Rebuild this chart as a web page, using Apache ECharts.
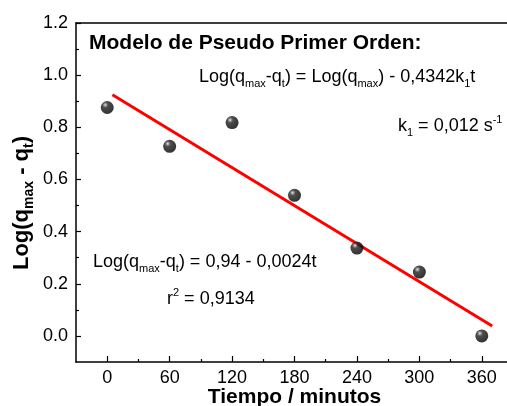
<!DOCTYPE html>
<html>
<head>
<meta charset="utf-8">
<script src="https://cdn.jsdelivr.net/npm/echarts@6/dist/echarts.min.js"></script>
<style>html,body{margin:0;padding:0;background:#fff}#c{width:507px;height:406px}</style>
</head>
<body>
<div id="c"></div>
<script>
// ---- data ----
const times = [0, 60, 120, 180, 240, 300, 360];
const logValues = [0.876, 0.727, 0.818, 0.539, 0.337, 0.245, 0.0];
const fitTimes = [5, 370];
const fitValues = [0.925, 0.038];
const xMajorTicks = [0, 60, 120, 180, 240, 300, 360];
const xMinorTicks = [30, 90, 150, 210, 270, 330];
const yMajorTicks = [0, 0.2, 0.4, 0.6, 0.8, 1.0, 1.2];
const yMinorTicks = [0.1, 0.3, 0.5, 0.7, 0.9, 1.1];
const titleText = 'Modelo de Pseudo Primer Orden:';
const xName = 'Tiempo / minutos';

const FONT = '"Liberation Sans", Arial, sans-serif';
const chart = echarts.init(document.getElementById('c'), null, {renderer: 'canvas'});

const sphere = {
  type: 'radial', x: 0.35, y: 0.3, r: 0.7,
  colorStops: [
    {offset: 0, color: '#f0f0f0'},
    {offset: 0.12, color: '#8a8a8a'},
    {offset: 0.32, color: '#202020'},
    {offset: 1, color: '#000'}
  ]
};

const axisLine = {show: true, onZero: false, lineStyle: {color: '#000', width: 1.5}};
const subRich = {
  s: {fontSize: 11, lineHeight: 12, verticalAlign: 'bottom', fontFamily: FONT, fill: '#000'},
  p: {fontSize: 11, lineHeight: 12, verticalAlign: 'top', fontFamily: FONT, fill: '#000'}
};

function txt(x, y, text, size, bold) {
  return {
    type: 'text', x: x, y: y, z: 100,
    style: {
      text: text, fontSize: size, fontWeight: bold ? 'bold' : 'normal',
      fontFamily: FONT, fill: '#000', verticalAlign: 'middle', align: 'left',
      lineHeight: size + 6, rich: subRich
    }
  };
}

const option = {
  backgroundColor: '#fff',
  animation: false,
  grid: {left: 76, top: 23, right: -6, bottom: 44, containLabel: false, outerBoundsMode: 'none'},
  xAxis: [
    {
      type: 'value', min: -30, max: 390, position: 'bottom',
      axisLine: axisLine,
      axisTick: {show: true, inside: true, length: 6, customValues: xMajorTicks, lineStyle: {color: '#000', width: 1.2}},
      axisLabel: {show: true, customValues: xMajorTicks, fontSize: 18, color: '#000', fontFamily: FONT, margin: 7},
      splitLine: {show: false},
      name: xName, nameLocation: 'middle', nameGap: 25, nameMoveOverlap: false,
      nameTextStyle: {fontSize: 21, fontWeight: 'bold', color: '#000', fontFamily: FONT}
    },
    {
      type: 'value', min: -30, max: 390, position: 'bottom',
      axisLine: {show: false, onZero: false},
      axisTick: {show: true, inside: true, length: 3, customValues: xMinorTicks, lineStyle: {color: '#000', width: 1.2}},
      axisLabel: {show: false}, splitLine: {show: false}
    },
    {
      type: 'value', min: -30, max: 390, position: 'top',
      axisLine: axisLine, axisTick: {show: false}, axisLabel: {show: false}, splitLine: {show: false}
    }
  ],
  yAxis: [
    {
      type: 'value', min: -0.1, max: 1.2, position: 'left',
      axisLine: axisLine,
      axisTick: {show: true, inside: true, length: 5, customValues: yMajorTicks, lineStyle: {color: '#000', width: 1.2}},
      axisLabel: {show: true, customValues: yMajorTicks, fontSize: 18, color: '#000', fontFamily: FONT, margin: 8,
        formatter: v => v.toFixed(1)},
      splitLine: {show: false}
    },
    {
      type: 'value', min: -0.1, max: 1.2, position: 'left',
      axisLine: {show: false, onZero: false},
      axisTick: {show: true, inside: true, length: 3, customValues: yMinorTicks, lineStyle: {color: '#000', width: 1.2}},
      axisLabel: {show: false}, splitLine: {show: false}
    }
  ],
  series: [
    {
      type: 'line', xAxisIndex: 0, yAxisIndex: 0, z: 2,
      data: fitTimes.map((t, i) => [t, fitValues[i]]),
      symbol: 'none', lineStyle: {color: '#ff0000', width: 3}
    },
    {
      type: 'scatter', xAxisIndex: 0, yAxisIndex: 0, z: 3,
      data: times.map((t, i) => [t, logValues[i]]),
      symbol: 'circle', symbolSize: 13,
      itemStyle: {color: sphere}
    }
  ],
  graphic: [
    txt(89, 43, titleText, 21, true),
    txt(199, 77, 'Log(q{s|max}-q{s|t}) = Log(q{s|max}) - 0,4342k{s|1}t', 18, false),
    txt(398, 126, 'k{s|1} = 0,012 s{p|-1}', 18, false),
    txt(93, 262, 'Log(q{s|max}-q{s|t}) = 0,94 - 0,0024t', 18, false),
    txt(167, 299, 'r{p|2} = 0,9134', 18, false),
    {
      type: 'text', x: 22, y: 203, rotation: Math.PI / 2, z: 100,
      style: {
        text: 'Log(q{s|max} - q{s|t})', fontSize: 22, fontWeight: 'bold', fontFamily: FONT, fill: '#000',
        align: 'center', verticalAlign: 'middle', lineHeight: 28,
        rich: {s: {fontSize: 14, lineHeight: 15, verticalAlign: 'bottom', fontWeight: 'bold', fontFamily: FONT, fill: '#000'}}
      }
    }
  ]
};
chart.setOption(option);
</script>
</body>
</html>
